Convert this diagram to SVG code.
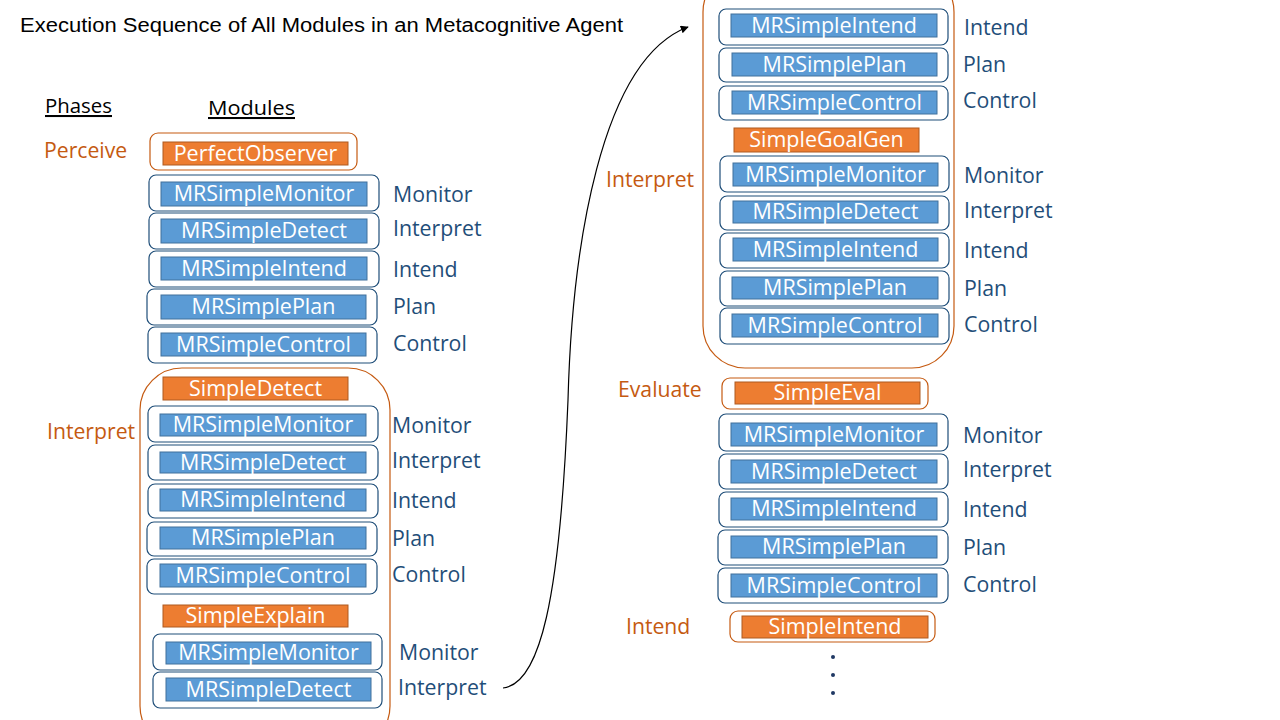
<svg xmlns="http://www.w3.org/2000/svg" width="1280" height="720" viewBox="0 0 1280 720">
<style>
text{font-family:"Open Sans","Liberation Sans",sans-serif}
.bg{fill:#ffffff}
.ob{fill:#ffffff;stroke:#1F4E79;stroke-width:1.2}
.oo{fill:#ffffff;stroke:#C55A11;stroke-width:1.2}
.cont{fill:none;stroke:#C55A11;stroke-width:1.2}
.bi{fill:#5B9BD5;stroke:#41719C;stroke-width:1}
.oi{fill:#ED7D31;stroke:#AE5A21;stroke-width:1}
.mt{fill:#ffffff;font-size:21.5px;text-anchor:middle}
.pl{fill:#1F4E79;font-size:21.3px}
.ph{fill:#C55A11;font-size:21.2px}
.hd{fill:#000000;font-size:20.5px;text-decoration:underline}
.conn{fill:none;stroke:#000000;stroke-width:1.2}
</style>
<defs>
<marker id="ah" viewBox="0 0 10 10" refX="9" refY="5" markerWidth="8" markerHeight="8" orient="auto" markerUnits="userSpaceOnUse">
<path d="M0,0 L10,5 L0,10 z" fill="#000000"/>
</marker>
</defs>
<rect class="bg" x="0" y="0" width="1280" height="720"/>
<text x="20" y="32" font-size="20" fill="#000000" textLength="603" lengthAdjust="spacingAndGlyphs" style="font-family:'Liberation Sans',sans-serif">Execution Sequence of All Modules in an Metacognitive Agent</text>
<text class="hd" x="45" y="113" textLength="67" lengthAdjust="spacingAndGlyphs">Phases</text>
<text class="hd" x="208" y="115" textLength="87" lengthAdjust="spacingAndGlyphs">Modules</text>

<g id="containers">
<rect class="cont" x="140" y="368" width="250" height="380" rx="42"/>
<rect class="cont" x="703" y="-30" width="251" height="398" rx="42"/>
</g>

<g id="phase-labels">
<text class="ph" x="44" y="158">Perceive</text>
<text class="ph" x="47" y="439">Interpret</text>
<text class="ph" x="606" y="187">Interpret</text>
<text class="ph" x="618" y="397">Evaluate</text>
<text class="ph" x="626" y="634">Intend</text>
</g>

<g id="n-perfectobserver"><rect class="oo" x="150" y="133" width="207" height="37" rx="8"/><rect class="oi" x="163" y="142" width="185" height="23"/><text class="mt" x="255.5" y="161">PerfectObserver</text></g>
<g id="n-l1"><rect class="ob" x="149" y="175" width="230" height="36" rx="7"/><rect class="bi" x="161" y="182" width="206" height="24"/><text class="mt" x="264" y="201">MRSimpleMonitor</text><text class="pl" x="393" y="202">Monitor</text></g>
<g id="n-l2"><rect class="ob" x="149" y="213" width="230" height="36" rx="7"/><rect class="bi" x="161" y="219" width="206" height="24"/><text class="mt" x="264" y="238">MRSimpleDetect</text><text class="pl" x="393" y="236">Interpret</text></g>
<g id="n-l3"><rect class="ob" x="149" y="251" width="230" height="36" rx="7"/><rect class="bi" x="161" y="257" width="206" height="23"/><text class="mt" x="264" y="276">MRSimpleIntend</text><text class="pl" x="393" y="277">Intend</text></g>
<g id="n-l4"><rect class="ob" x="147" y="289" width="230" height="36" rx="7"/><rect class="bi" x="161" y="295" width="205" height="24"/><text class="mt" x="263.5" y="314">MRSimplePlan</text><text class="pl" x="393" y="314">Plan</text></g>
<g id="n-l5"><rect class="ob" x="148" y="327" width="229" height="36" rx="7"/><rect class="bi" x="161" y="333" width="205" height="23"/><text class="mt" x="263.5" y="352">MRSimpleControl</text><text class="pl" x="393" y="351">Control</text></g>

<g id="n-simpledetect"><rect class="oi" x="163" y="377" width="185" height="23"/><text class="mt" x="255.5" y="396">SimpleDetect</text></g>
<g id="n-l6"><rect class="ob" x="148" y="406" width="230" height="36" rx="7"/><rect class="bi" x="160" y="414" width="206" height="22"/><text class="mt" x="263" y="432">MRSimpleMonitor</text><text class="pl" x="392" y="433">Monitor</text></g>
<g id="n-l7"><rect class="ob" x="148" y="445" width="230" height="35" rx="7"/><rect class="bi" x="160" y="452" width="206" height="21"/><text class="mt" x="263" y="470">MRSimpleDetect</text><text class="pl" x="392" y="468">Interpret</text></g>
<g id="n-l8"><rect class="ob" x="148" y="484" width="230" height="34" rx="7"/><rect class="bi" x="160" y="489" width="206" height="22"/><text class="mt" x="263" y="507">MRSimpleIntend</text><text class="pl" x="392" y="508">Intend</text></g>
<g id="n-l9"><rect class="ob" x="147" y="522" width="230" height="34" rx="7"/><rect class="bi" x="160" y="527" width="206" height="22"/><text class="mt" x="263" y="545">MRSimplePlan</text><text class="pl" x="392" y="546">Plan</text></g>
<g id="n-l10"><rect class="ob" x="147" y="559" width="230" height="35" rx="7"/><rect class="bi" x="160" y="564" width="206" height="23"/><text class="mt" x="263" y="583">MRSimpleControl</text><text class="pl" x="392" y="582">Control</text></g>
<g id="n-simpleexplain"><rect class="oi" x="163" y="605" width="185" height="22"/><text class="mt" x="255.5" y="623">SimpleExplain</text></g>
<g id="n-l11"><rect class="ob" x="153" y="634" width="229" height="36" rx="7"/><rect class="bi" x="166" y="642" width="205" height="22"/><text class="mt" x="268.5" y="660">MRSimpleMonitor</text><text class="pl" x="399" y="660">Monitor</text></g>
<g id="n-l12"><rect class="ob" x="153" y="672" width="229" height="36" rx="7"/><rect class="bi" x="166" y="678" width="205" height="23"/><text class="mt" x="268.5" y="697">MRSimpleDetect</text><text class="pl" x="398" y="695">Interpret</text></g>

<g id="n-r1"><rect class="ob" x="719" y="9" width="229" height="36" rx="7"/><rect class="bi" x="731" y="14" width="206" height="23"/><text class="mt" x="834" y="33">MRSimpleIntend</text><text class="pl" x="964" y="35">Intend</text></g>
<g id="n-r2"><rect class="ob" x="719" y="48" width="229" height="34" rx="7"/><rect class="bi" x="732" y="53" width="205" height="23"/><text class="mt" x="834.5" y="72">MRSimplePlan</text><text class="pl" x="963" y="72">Plan</text></g>
<g id="n-r3"><rect class="ob" x="719" y="86" width="229" height="34" rx="7"/><rect class="bi" x="732" y="91" width="205" height="23"/><text class="mt" x="834.5" y="110">MRSimpleControl</text><text class="pl" x="963" y="108">Control</text></g>
<g id="n-simplegoalgen"><rect class="oi" x="734" y="128" width="185" height="24"/><text class="mt" x="826.5" y="147">SimpleGoalGen</text></g>
<g id="n-r4"><rect class="ob" x="720" y="156" width="229" height="36" rx="7"/><rect class="bi" x="733" y="163" width="205" height="23"/><text class="mt" x="835.5" y="182">MRSimpleMonitor</text><text class="pl" x="964" y="183">Monitor</text></g>
<g id="n-r5"><rect class="ob" x="720" y="196" width="229" height="34" rx="7"/><rect class="bi" x="733" y="201" width="205" height="22"/><text class="mt" x="835.5" y="219">MRSimpleDetect</text><text class="pl" x="964" y="218">Interpret</text></g>
<g id="n-r6"><rect class="ob" x="720" y="233" width="229" height="35" rx="7"/><rect class="bi" x="733" y="238" width="205" height="23"/><text class="mt" x="835.5" y="257">MRSimpleIntend</text><text class="pl" x="964" y="258">Intend</text></g>
<g id="n-r7"><rect class="ob" x="720" y="271" width="229" height="35" rx="7"/><rect class="bi" x="732" y="277" width="206" height="22"/><text class="mt" x="835" y="295">MRSimplePlan</text><text class="pl" x="964" y="296">Plan</text></g>
<g id="n-r8"><rect class="ob" x="720" y="308" width="229" height="36" rx="7"/><rect class="bi" x="732" y="314" width="206" height="23"/><text class="mt" x="835" y="333">MRSimpleControl</text><text class="pl" x="964" y="332">Control</text></g>

<g id="n-simpleeval"><rect class="oo" x="722" y="378" width="206" height="31" rx="8"/><rect class="oi" x="735" y="382" width="185" height="22"/><text class="mt" x="827.5" y="400">SimpleEval</text></g>
<g id="n-r9"><rect class="ob" x="719" y="414" width="229" height="37" rx="7"/><rect class="bi" x="731" y="423" width="206" height="23"/><text class="mt" x="834" y="442">MRSimpleMonitor</text><text class="pl" x="963" y="443">Monitor</text></g>
<g id="n-r10"><rect class="ob" x="719" y="454" width="229" height="35" rx="7"/><rect class="bi" x="731" y="460" width="206" height="23"/><text class="mt" x="834" y="479">MRSimpleDetect</text><text class="pl" x="963" y="477">Interpret</text></g>
<g id="n-r11"><rect class="ob" x="719" y="492" width="229" height="35" rx="7"/><rect class="bi" x="731" y="498" width="206" height="22"/><text class="mt" x="834" y="516">MRSimpleIntend</text><text class="pl" x="963" y="517">Intend</text></g>
<g id="n-r12"><rect class="ob" x="718" y="530" width="230" height="35" rx="7"/><rect class="bi" x="731" y="536" width="206" height="22"/><text class="mt" x="834" y="554">MRSimplePlan</text><text class="pl" x="963" y="555">Plan</text></g>
<g id="n-r13"><rect class="ob" x="718" y="568" width="230" height="35" rx="7"/><rect class="bi" x="731" y="574" width="206" height="23"/><text class="mt" x="834" y="593">MRSimpleControl</text><text class="pl" x="963" y="592">Control</text></g>
<g id="n-simpleintend"><rect class="oo" x="730" y="611" width="205" height="31" rx="8"/><rect class="oi" x="742" y="616" width="186" height="22"/><text class="mt" x="835" y="634">SimpleIntend</text></g>

<g id="ellipsis">
<circle cx="833" cy="657" r="2" fill="#1F3864"/>
<circle cx="833" cy="675" r="2" fill="#1F3864"/>
<circle cx="833" cy="693" r="2" fill="#1F3864"/>
</g>

<g id="connectors">
<path class="conn" d="M503,688 C540,684 560,600 568,400 C572,250 600,60 688,27" marker-end="url(#ah)"/>
</g>
</svg>
